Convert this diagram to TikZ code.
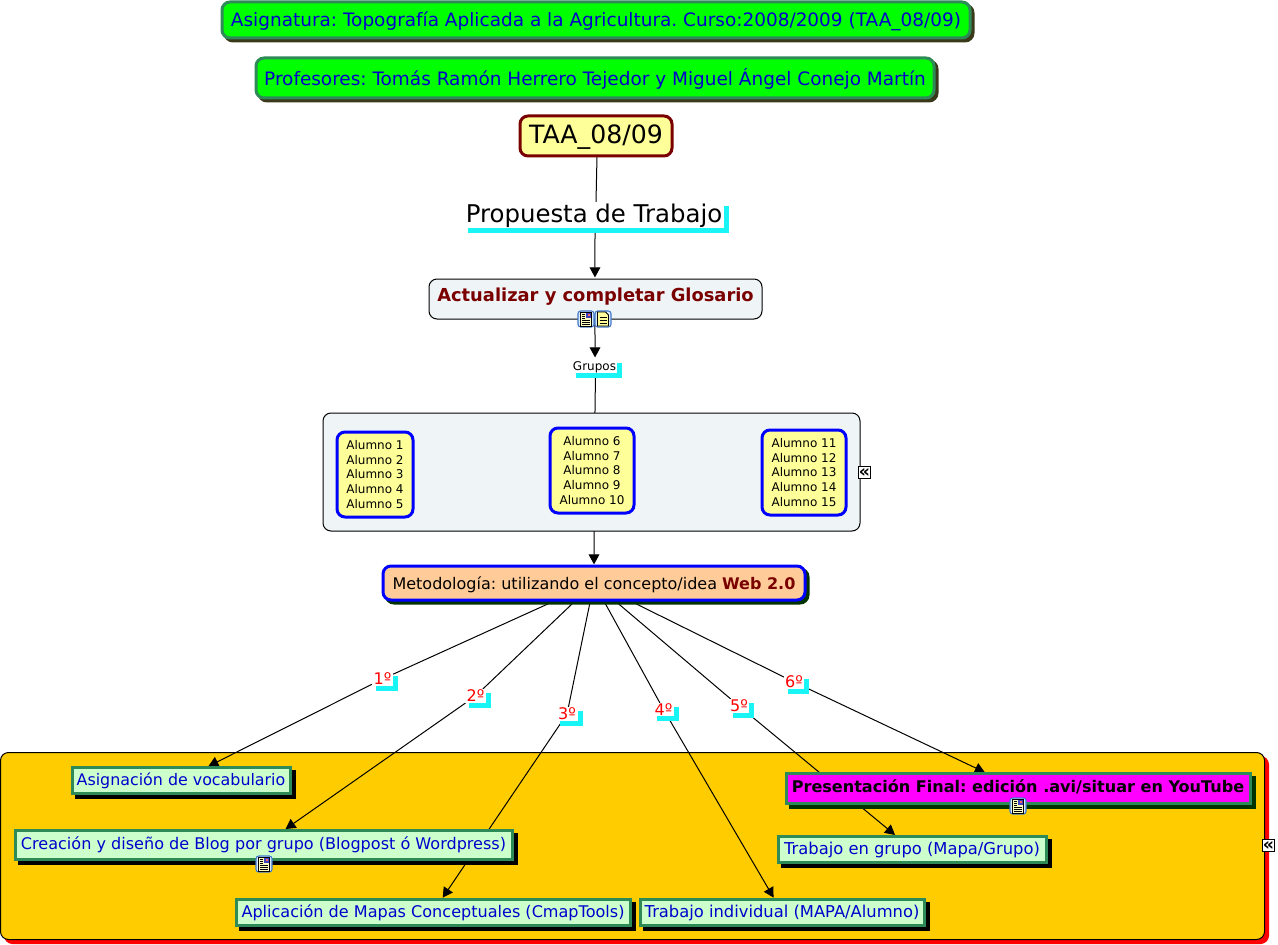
\documentclass[tikz,border=0pt]{standalone}
\usepackage{fontspec}
\setmainfont{DejaVu Sans}
\frenchspacing
\usetikzlibrary{arrows.meta,shadows}
\definecolor{seag}{HTML}{2E8B57}
\definecolor{txtblue}{HTML}{0000CC}
\definecolor{dkred}{HTML}{7A0000}
\definecolor{pale}{HTML}{EFF4F7}
\definecolor{lyel}{HTML}{FFFF99}
\definecolor{lgrn}{HTML}{CCFFCC}
\definecolor{peach}{HTML}{FFCC99}
\definecolor{amber}{HTML}{FFCC00}
\definecolor{shcyan}{HTML}{19F5F5}
\definecolor{iconblue}{HTML}{3F78C8}
\definecolor{iconbg}{HTML}{DCEBFA}
\definecolor{mag}{HTML}{FF00FF}
\definecolor{olivesh}{HTML}{3A3A1A}
\definecolor{greensh}{HTML}{003300}
\pgfdeclarelayer{backlayer}
\pgfdeclarelayer{edgelayer}
\pgfsetlayers{backlayer,edgelayer,main}
\newcommand{\fs}[1]{\fontsize{#1}{#1}\selectfont}
\newcommand{\sft}[2]{\raisebox{#1pt}[\height][\depth]{#2}}
\tikzset{
  x=0.75pt,y=-0.75pt,
  base/.style={inner sep=0pt,outer sep=0pt,align=center},
  shad/.style n args={3}{general shadow={shadow xshift=#1*0.75pt,shadow yshift=-#2*0.75pt,fill=#3,draw=#3}},
  titlebox/.style={base,rounded corners=6pt,draw=seag,line width=2.25pt,fill=green,text=txtblue,shad={3}{3}{olivesh},font=\fs{13.85}},
  rootbox/.style={base,rounded corners=6pt,draw=dkred,line width=2.25pt,fill=lyel,text=black,font=\fs{18.9}},
  plainbox/.style={base,rounded corners=6pt,draw=black,line width=0.75pt,fill=pale},
  alumbox/.style={base,rounded corners=6pt,draw=blue,line width=2.25pt,fill=lyel,text=black,font=\fontsize{9}{10.9}\selectfont},
  methbox/.style={base,rounded corners=6pt,draw=blue,line width=2.25pt,fill=peach,text=black,shad={3}{3}{greensh},font=\fs{12}},
  linkbox/.style={base,draw=seag,line width=2.25pt,fill=lgrn,text=txtblue,shad={4}{4}{black},font=\fs{12.05}},
  magbox/.style={base,draw=seag,line width=2.25pt,fill=mag,text=black,shad={4}{4}{greensh},font=\fs{12.05}\bfseries},
  lab/.style={base,fill=white,shad={4}{4}{shcyan}},
  rlab/.style={lab,text=red,font=\fs{12}},
  expander/.style={base,draw=black,fill=white,line width=0.75pt,minimum width=8.5pt,minimum height=8.5pt,font=\fs{13}\bfseries},
  conn/.style={line width=0.75pt,draw=black},
  arr/.style={conn,-{Triangle[length=7.5pt,width=8pt]},shorten >=1.2pt},
  pics/docicon/.style={code={
    \fill[rounded corners=2pt,fill=iconbg,draw=iconblue,line width=0.8pt] (-8,-8) rectangle (8,8);
    \filldraw[fill=lyel,draw=black,line width=0.6pt] (-5.5,-7) -- (2.5,-7) -- (5.5,-4) -- (5.5,7) -- (-5.5,7) -- cycle;
    \foreach \yy in {-2,1,4}{\draw[line width=0.6pt] (-3.5,\yy) -- (3.5,\yy);}
  }},
  pics/imgicon/.style={code={
    \fill[rounded corners=2pt,fill=iconbg,draw=iconblue,line width=0.8pt] (-8,-8) rectangle (8,8);
    \filldraw[fill=lyel!60,draw=black,line width=0.6pt] (-5.5,-7) rectangle (5.5,7);
    \foreach \yy in {1,3.5,5.5}{\draw[line width=0.6pt] (-4,\yy) -- (4,\yy);}
    \foreach \yy in {-5,-3,-1}{\draw[line width=0.6pt] (-4,\yy) -- (-1,\yy);}
    \fill[blue!50!gray] (0,-6) rectangle (4.5,-1);
    \fill[red!60] (1.5,-5) rectangle (3.5,-3);
  }},
}
\newcommand{\bx}[7]{%
  \pgfmathsetmacro\cxx{(#2+#4)/2}%
  \pgfmathsetmacro\cyy{(#3+#5)/2}%
  \pgfmathsetmacro\ww{(#4-#2)*0.75}%
  \pgfmathsetmacro\hh{(#5-#3)*0.75}%
  \node[#6,minimum width=\ww pt,minimum height=\hh pt] (#1) at (\cxx,\cyy) {#7};}
\begin{document}
\begin{tikzpicture}
\useasboundingbox (0,0) rectangle (1278,945);
\begin{pgfonlayer}{backlayer}
\fill[white] (0,0) rectangle (1278,945);
\bx{area}{0.5}{752.5}{1264.5}{939.5}{plainbox,fill=amber,shad={4}{4}{red}}{}
\end{pgfonlayer}
\bx{t1}{222}{2}{970}{38}{titlebox}{\sft{-0.75}{Asignatura: Topografía Aplicada a la Agricultura. Curso:2008/2009 (TAA\_08/09)}}
\bx{t2}{256}{58}{934}{98}{titlebox}{\sft{-0.75}{Profesores: Tomás Ramón Herrero Tejedor y Miguel Ángel Conejo Martín}}
\bx{root}{520}{116}{672}{156}{rootbox}{\sft{-1.2}{TAA\_08/09}}
\bx{prop}{464}{202}{724}{228}{lab,font=\fs{18.3}}{\sft{-0.75}{Propuesta de Trabajo}}
\bx{glos}{429}{279}{762}{319}{plainbox,text=dkred,font=\fs{13.4}\bfseries}{\sft{1.5}{Actualizar y completar Glosario}}
\bx{grup}{572}{359}{617}{373}{lab,font=\fs{9}}{\sft{-0.75}{Grupos}}
\bx{grp}{323}{413}{860}{531}{plainbox}{}
\bx{a1}{337}{432}{413}{517}{alumbox}{Alumno 1\\Alumno 2\\Alumno 3\\Alumno 4\\Alumno 5}
\bx{a2}{550}{428}{634}{513}{alumbox}{Alumno 6\\Alumno 7\\Alumno 8\\Alumno 9\\Alumno 10}
\bx{a3}{762}{430}{846}{515}{alumbox}{Alumno 11\\Alumno 12\\Alumno 13\\Alumno 14\\Alumno 15}
\bx{meth}{383}{566}{805}{600}{methbox}{\sft{-1.2}{Metodología: utilizando el concepto/idea {\color{dkred}\bfseries Web 2.0}}}
\bx{l1}{372}{672}{393}{686}{rlab}{1º}
\bx{l2}{465}{689}{486}{703}{rlab}{2º}
\bx{l3}{556}{707}{578}{721}{rlab}{3º}
\bx{l4}{653}{703}{674}{716}{rlab}{4º}
\bx{l5}{729}{699}{749}{713}{rlab}{5º}
\bx{l6}{784}{675}{804}{689}{rlab}{6º}
\bx{n1}{72}{767}{290}{793}{linkbox,font=\fs{11.9}}{\sft{-0.75}{Asignación de vocabulario}}
\bx{n2}{15}{830}{512}{859}{linkbox}{Creación y diseño de Blog por grupo (Blogpost ó Wordpress)}
\bx{n3}{236}{899}{630}{925}{linkbox}{\sft{-0.75}{Aplicación de Mapas Conceptuales (CmapTools)}}
\bx{n4}{640}{899}{924}{925}{linkbox,font=\fs{12.25}}{\sft{-0.75}{Trabajo individual (MAPA/Alumno)}}
\bx{n5}{778}{836}{1046}{862}{linkbox,font=\fs{12.25}}{\sft{-0.75}{Trabajo en grupo (Mapa/Grupo)}}
\bx{n6}{786}{773}{1250}{803}{magbox}{\sft{0.75}{Presentación Final: edición .avi/situar en YouTube}}
\begin{pgfonlayer}{edgelayer}
\draw[conn] ([xshift=0.75pt]root.south) -- ([xshift=1.5pt]prop.north);
\draw[arr] ([xshift=0.75pt]prop.south) -- ([xshift=-0.4pt]glos.north);
\draw[arr] ([xshift=-0.4pt]glos.south) -- ([xshift=0.4pt]grup.north);
\draw[conn] ([xshift=0.75pt]grup.south) -- ([xshift=2.6pt]grp.north);
\draw[arr] ([xshift=1.9pt]grp.south) -- (meth.north);
\draw[conn] (meth) -- (l1); \draw[arr] (l1) -- (n1);
\draw[conn] (meth) -- (l2); \draw[arr] (l2) -- (n2);
\draw[conn] (meth) -- (l3); \draw[arr] (l3) -- (n3);
\draw[conn] (meth) -- (l4); \draw[arr] (l4) -- (n4);
\draw[conn] (meth) -- (l5); \draw[arr] (l5) -- (n5);
\draw[conn] (meth) -- (l6); \draw[arr] (l6) -- (n6);
\end{pgfonlayer}
\pic at (586,319) {imgicon};
\pic at (603,319) {docicon};
\pic at (264,864) {imgicon};
\pic at (1018,806) {imgicon};
\node[expander] (x1) at (864.5,472.5) {«};
\node[expander] (x2) at (1268.5,845.5) {«};
\end{tikzpicture}
\end{document}
